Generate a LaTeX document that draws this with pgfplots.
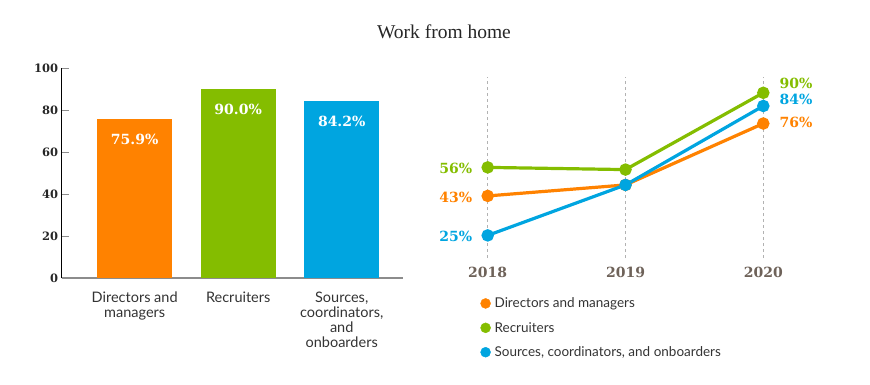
\documentclass[border=0pt]{standalone}
\usepackage{pgfplots}
\pgfplotsset{compat=1.18}
\usepackage{fontspec}
\setmainfont{Liberation Serif}
\newfontfamily\numfont{DejaVu Serif}
\newfontfamily\sansfont{Lato}
\definecolor{orangeC}{HTML}{FF8200}
\definecolor{greenC}{HTML}{84BD00}
\definecolor{blueC}{HTML}{00A5E0}
\definecolor{yearC}{HTML}{6E6259}
\definecolor{textC}{HTML}{333333}
\newcommand{\pctfont}{\numfont\bfseries\fontsize{14}{16}\selectfont}
\begin{document}
\begin{tikzpicture}[x=1pt,y=1pt]
\path (0,0) rectangle (870,384);
\node[font=\fontsize{19.5}{22}\selectfont, anchor=base, text=black!85] at (444,345.7) {Work from home};

% ---------- left: bar chart ----------
\begin{axis}[
  at={(61.7pt,105.7pt)}, anchor=south west, scale only axis,
  width=341.6pt, height=210pt,
  xmin=-0.705, xmax=2.595, ymin=0, ymax=100,
  axis x line*=bottom, axis y line*=left,
  x axis line style={draw=gray!90, line width=2pt},
  y axis line style={draw=black, line width=0.8pt},
  ytick={0,20,40,60,80,100}, tick align=inside, major tick length=7pt,
  ytick style={draw=gray!90, line width=0.8pt},
  xtick={0,1,2}, xtick style={draw=none},
  xticklabels={{Directors and\\managers}, Recruiters, {Sources,\\coordinators,\\and\\onboarders}},
  xticklabel style={font=\sansfont\fontsize{14.5}{15}\selectfont, align=center, text=textC, yshift=-3pt, anchor=north},
  yticklabel style={font=\numfont\bfseries\fontsize{11.5}{13}\selectfont, text=black!85},
  yticklabels={0,20,40,60,80,100},
  ybar, bar width=75pt, bar shift=0pt,
  point meta=explicit symbolic,
  nodes near coords,
  every node near coord/.append style={anchor=center, yshift=-20pt, text=white, font=\numfont\bfseries\fontsize{14}{16}\selectfont},
  clip=false,
]
\addplot[fill=orangeC, draw=none, bar shift=0pt] coordinates {(0,75.9) [75.9\%]};
\addplot[fill=greenC, draw=none, bar shift=0pt] coordinates {(1,90.0) [90.0\%]};
\addplot[fill=blueC, draw=none, bar shift=0pt] coordinates {(2,84.2) [84.2\%]};
\end{axis}

% ---------- right: line chart ----------
\begin{axis}[
  at={(487.7pt,126pt)}, anchor=south west, scale only axis,
  width=275.6pt, height=181pt,
  xmin=2018, xmax=2020, ymin=14.7, ymax=97.2,
  axis line style={draw=none},
  ytick=\empty, xtick={2018,2019,2020},
  xticklabels={2018,2019,2020},
  xtick style={draw=none},
  xmajorgrids, major grid style={draw=gray!60, dash pattern=on 3pt off 3pt, line width=0.8pt},
  xticklabel style={font=\numfont\bfseries\fontsize{14}{16}\selectfont, text=yearC, yshift=-6pt},
  clip=false,
  legend cell align=left,
  legend image code/.code={\draw[#1] plot coordinates {(4.6pt,0pt)};},
  legend style={draw=none, fill=none, at={(axis description cs:-0.0265,-0.21)}, anchor=north west,
    font=\sansfont\fontsize{13.5}{15}\selectfont, text=textC, row sep=10pt, inner sep=0pt,
    nodes={inner sep=1.5pt}, /tikz/every odd column/.append style={column sep=2.5pt}},
]
\addplot[orangeC, line width=3.2pt, mark=*, mark size=4.6pt, forget plot] coordinates {(2018,43)(2019,48)(2020,76)};
\addplot[greenC, line width=3.2pt, mark=*, mark size=4.6pt, forget plot] coordinates {(2018,56)(2019,55)(2020,90)};
\addplot[blueC, line width=3.2pt, mark=*, mark size=4.6pt, forget plot] coordinates {(2018,25)(2019,48)(2020,84)};
\addlegendimage{only marks, mark=*, mark size=5pt, orangeC}
\addlegendentry{Directors and managers}
\addlegendimage{only marks, mark=*, mark size=5pt, greenC}
\addlegendentry{Recruiters}
\addlegendimage{only marks, mark=*, mark size=5pt, blueC}
\addlegendentry{Sources, coordinators, and onboarders}
\node[anchor=east, text=greenC, font=\pctfont, xshift=-12pt, yshift=-1.5pt] at (axis cs:2018,56) {56\%};
\node[anchor=east, text=orangeC, font=\pctfont, xshift=-12pt, yshift=-1.5pt] at (axis cs:2018,43) {43\%};
\node[anchor=east, text=blueC, font=\pctfont, xshift=-12pt, yshift=-0.5pt] at (axis cs:2018,25) {25\%};
\node[anchor=west, text=greenC, font=\pctfont, xshift=12.7pt, yshift=9.7pt] at (axis cs:2020,90) {90\%};
\node[anchor=west, text=blueC, font=\pctfont, xshift=12.7pt, yshift=6.7pt] at (axis cs:2020,84) {84\%};
\node[anchor=west, text=orangeC, font=\pctfont, xshift=12.7pt, yshift=1.6pt] at (axis cs:2020,76) {76\%};
\end{axis}
\end{tikzpicture}
\end{document}
